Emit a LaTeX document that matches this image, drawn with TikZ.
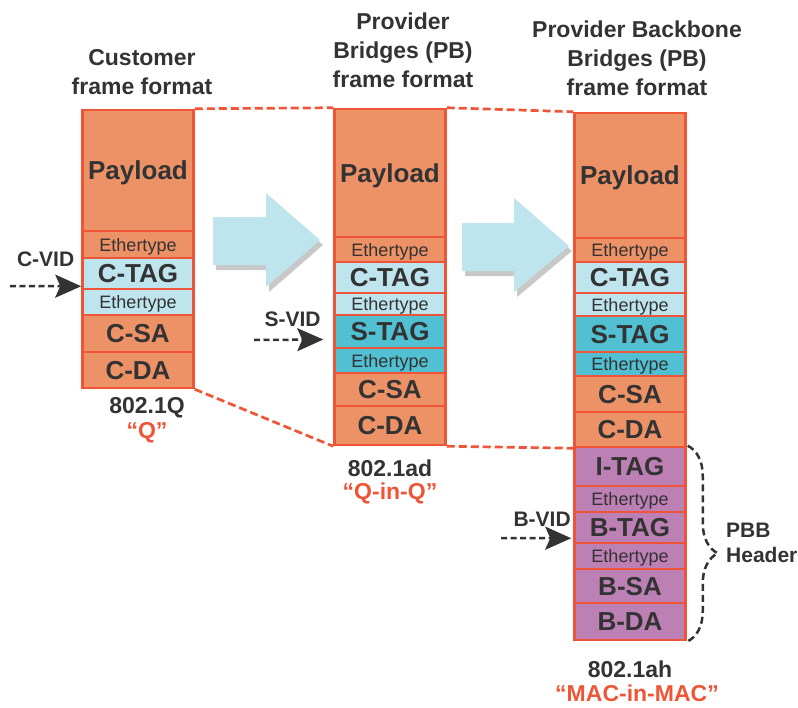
\documentclass[tikz,border=0pt]{standalone}
\usepackage{fontspec}
\setmainfont{Liberation Sans}
\usetikzlibrary{arrows.meta,decorations.pathreplacing}

\definecolor{edgered}{RGB}{240,84,54}
\definecolor{fieldorange}{RGB}{237,146,103}
\definecolor{tagblue}{RGB}{190,229,238}
\definecolor{tealtag}{RGB}{80,192,210}
\definecolor{purpletag}{RGB}{189,128,181}
\definecolor{darktext}{RGB}{51,51,51}
\definecolor{shadowgray}{RGB}{200,200,200}

\tikzset{
	fieldbox/.style={draw=edgered, line width=2.5pt, minimum width=111pt, inner sep=0pt, text=darktext},
	orangefield/.style={fieldbox, fill=fieldorange},
	bluefield/.style={fieldbox, fill=tagblue},
	tealfield/.style={fieldbox, fill=tealtag},
	purplefield/.style={fieldbox, fill=purpletag},
	biglbl/.style={font=\fontsize{26}{28}\selectfont\bfseries, text height=18.5pt, text depth=0pt},
	ethlbl/.style={font=\fontsize{18}{20}\selectfont, text height=13pt, text depth=0pt},
	titlelbl/.style={align=center, text=darktext, font=\fontsize{23}{29}\selectfont\bfseries},
	verlbl/.style={text=darktext, font=\fontsize{23}{27}\selectfont\bfseries},
	nicklbl/.style={text=edgered, font=\fontsize{23}{27}\selectfont\bfseries},
	vidlbl/.style={text=darktext, inner sep=0pt, font=\fontsize{21}{25}\selectfont\bfseries},
	linkline/.style={draw=edgered, line width=2.7pt, dash pattern=on 8pt off 4pt},
	vidarrow/.style={draw=darktext, line width=2.5pt, dash pattern=on 6pt off 3.5pt, -{Stealth[length=26pt, width=23pt, inset=5pt]}},
}

\begin{document}
\begin{tikzpicture}[x=1pt, y=-1pt]
	\useasboundingbox (0,0) rectangle (798,707);

	% titles
	\node[titlelbl] (title1) at (142,72.5) {Customer\\frame format};
	\node[titlelbl] (title2) at (403,50)   {Provider\\Bridges (PB)\\frame format};
	\node[titlelbl] (title3) at (637,58)   {Provider Backbone\\Bridges (PB)\\frame format};

	% big arrows
	\fill[shadowgray, shift={(3,5)}] (213,217) -- (266,217) -- (266,193) -- (320,240) -- (266,287) -- (266,265) -- (213,265) -- cycle;
	\fill[tagblue] (213,217) -- (266,217) -- (266,193) -- (320,240) -- (266,287) -- (266,265) -- (213,265) -- cycle;
	\fill[shadowgray, shift={(3,5)}] (462,223) -- (514,223) -- (514,198) -- (569,246) -- (514,292) -- (514,271) -- (462,271) -- cycle;
	\fill[tagblue] (462,223) -- (514,223) -- (514,198) -- (569,246) -- (514,292) -- (514,271) -- (462,271) -- cycle;

	% 802.1Q
	\node[orangefield, biglbl, minimum height=121pt] (pay1)  at (138,170.5) {Payload};
	\node[orangefield, ethlbl, minimum height=27pt]  (eth1a) at (138,244.5) {Ethertype};
	\node[bluefield,   biglbl, minimum height=31pt]  (ctag1) at (138,273.5) {C-TAG};
	\node[bluefield,   ethlbl, minimum height=26pt]  (eth1b) at (138,302)   {Ethertype};
	\node[orangefield, biglbl, minimum height=37pt]  (csa1)  at (138,333.5) {C-SA};
	\node[orangefield, biglbl, minimum height=36pt]  (cda1)  at (138,370)   {C-DA};

	% 802.1ad
	\node[orangefield, biglbl, minimum height=128pt] (pay2)  at (390,173)   {Payload};
	\node[orangefield, ethlbl, minimum height=25pt]  (eth2a) at (390,249.5) {Ethertype};
	\node[bluefield,   biglbl, minimum height=31pt]  (ctag2) at (390,277.5) {C-TAG};
	\node[bluefield,   ethlbl, minimum height=22pt]  (eth2b) at (390,304)   {Ethertype};
	\node[tealfield,   biglbl, minimum height=33pt]  (stag2) at (390,331.5) {S-TAG};
	\node[tealfield,   ethlbl, minimum height=25pt]  (eth2c) at (390,360.5) {Ethertype};
	\node[orangefield, biglbl, minimum height=33pt]  (csa2)  at (390,389.5) {C-SA};
	\node[orangefield, biglbl, minimum height=39pt]  (cda2)  at (390,425.5) {C-DA};

	% 802.1ah
	\node[orangefield, biglbl, minimum height=125pt] (pay3)  at (630,175.5) {Payload};
	\node[orangefield, ethlbl, minimum height=24pt]  (eth3a) at (630,250)   {Ethertype};
	\node[bluefield,   biglbl, minimum height=31pt]  (ctag3) at (630,277.5) {C-TAG};
	\node[bluefield,   ethlbl, minimum height=23pt]  (eth3b) at (630,304.5) {Ethertype};
	\node[tealfield,   biglbl, minimum height=36pt]  (stag3) at (630,334)   {S-TAG};
	\node[tealfield,   ethlbl, minimum height=24pt]  (eth3c) at (630,364)   {Ethertype};
	\node[orangefield, biglbl, minimum height=36pt]  (csa3)  at (630,394)   {C-SA};
	\node[orangefield, biglbl, minimum height=35pt]  (cda3)  at (630,429.5) {C-DA};
	\node[purplefield, biglbl, minimum height=39pt]  (itag)  at (630,466.5) {I-TAG};
	\node[purplefield, ethlbl, minimum height=26pt]  (eth3d) at (630,499)   {Ethertype};
	\node[purplefield, biglbl, minimum height=31pt]  (btag)  at (630,527.5) {B-TAG};
	\node[purplefield, ethlbl, minimum height=26pt]  (eth3e) at (630,556)   {Ethertype};
	\node[purplefield, biglbl, minimum height=34pt]  (bsa)   at (630,586)   {B-SA};
	\node[purplefield, biglbl, minimum height=37pt]  (bda)   at (630,621.5) {B-DA};

	% standard names
	\node[verlbl]  (ver1)  at (147,408) {802.1Q};
	\node[nicklbl] (nick1) at (147,433) {“Q”};
	\node[verlbl]  (ver2)  at (390,468) {802.1ad};
	\node[nicklbl] (nick2) at (390,493) {“Q-in-Q”};
	\node[verlbl]  (ver3)  at (630,669) {802.1ah};
	\node[nicklbl] (nick3) at (637,693) {“MAC-in-MAC”};

	% dashed outlines between formats
	\draw[linkline] (pay1.north east) -- (pay2.north west);
	\draw[linkline] (cda1.south east) -- (cda2.south west);
	\draw[linkline] (pay2.north east) -- (pay3.north west);
	\draw[linkline] (cda2.south east) -- (cda3.south west);

	% VID arrows
	\coordinate (cvidtail) at (10,286);
	\coordinate (svidtail) at (254,340);
	\coordinate (bvidtail) at (501,538);
	\draw[vidarrow] (cvidtail) -- ([yshift=4pt]ctag1.south west) node[vidlbl, midway, above=18pt] (cvid) {C-VID};
	\draw[vidarrow] (svidtail) -- ([xshift=-10pt, yshift=-8pt]stag2.west) node[vidlbl, midway, above=12pt, xshift=4pt] (svid) {S-VID};
	\draw[vidarrow] (bvidtail) -- ([xshift=-2pt, yshift=6pt]btag.south west) node[vidlbl, midway, above=10pt, xshift=6pt] (bvid) {B-VID};

	% PBB header brace
	\draw[darktext, line width=2.5pt, dash pattern=on 7pt off 4pt, decorate, decoration={brace, amplitude=30pt, aspect=0.55}]
		([xshift=1pt]itag.north east) -- ([xshift=1pt]bda.south east);
	\node[vidlbl, anchor=west, align=left] (pbb) at (726,543) {PBB\\Header};
\end{tikzpicture}
\end{document}
